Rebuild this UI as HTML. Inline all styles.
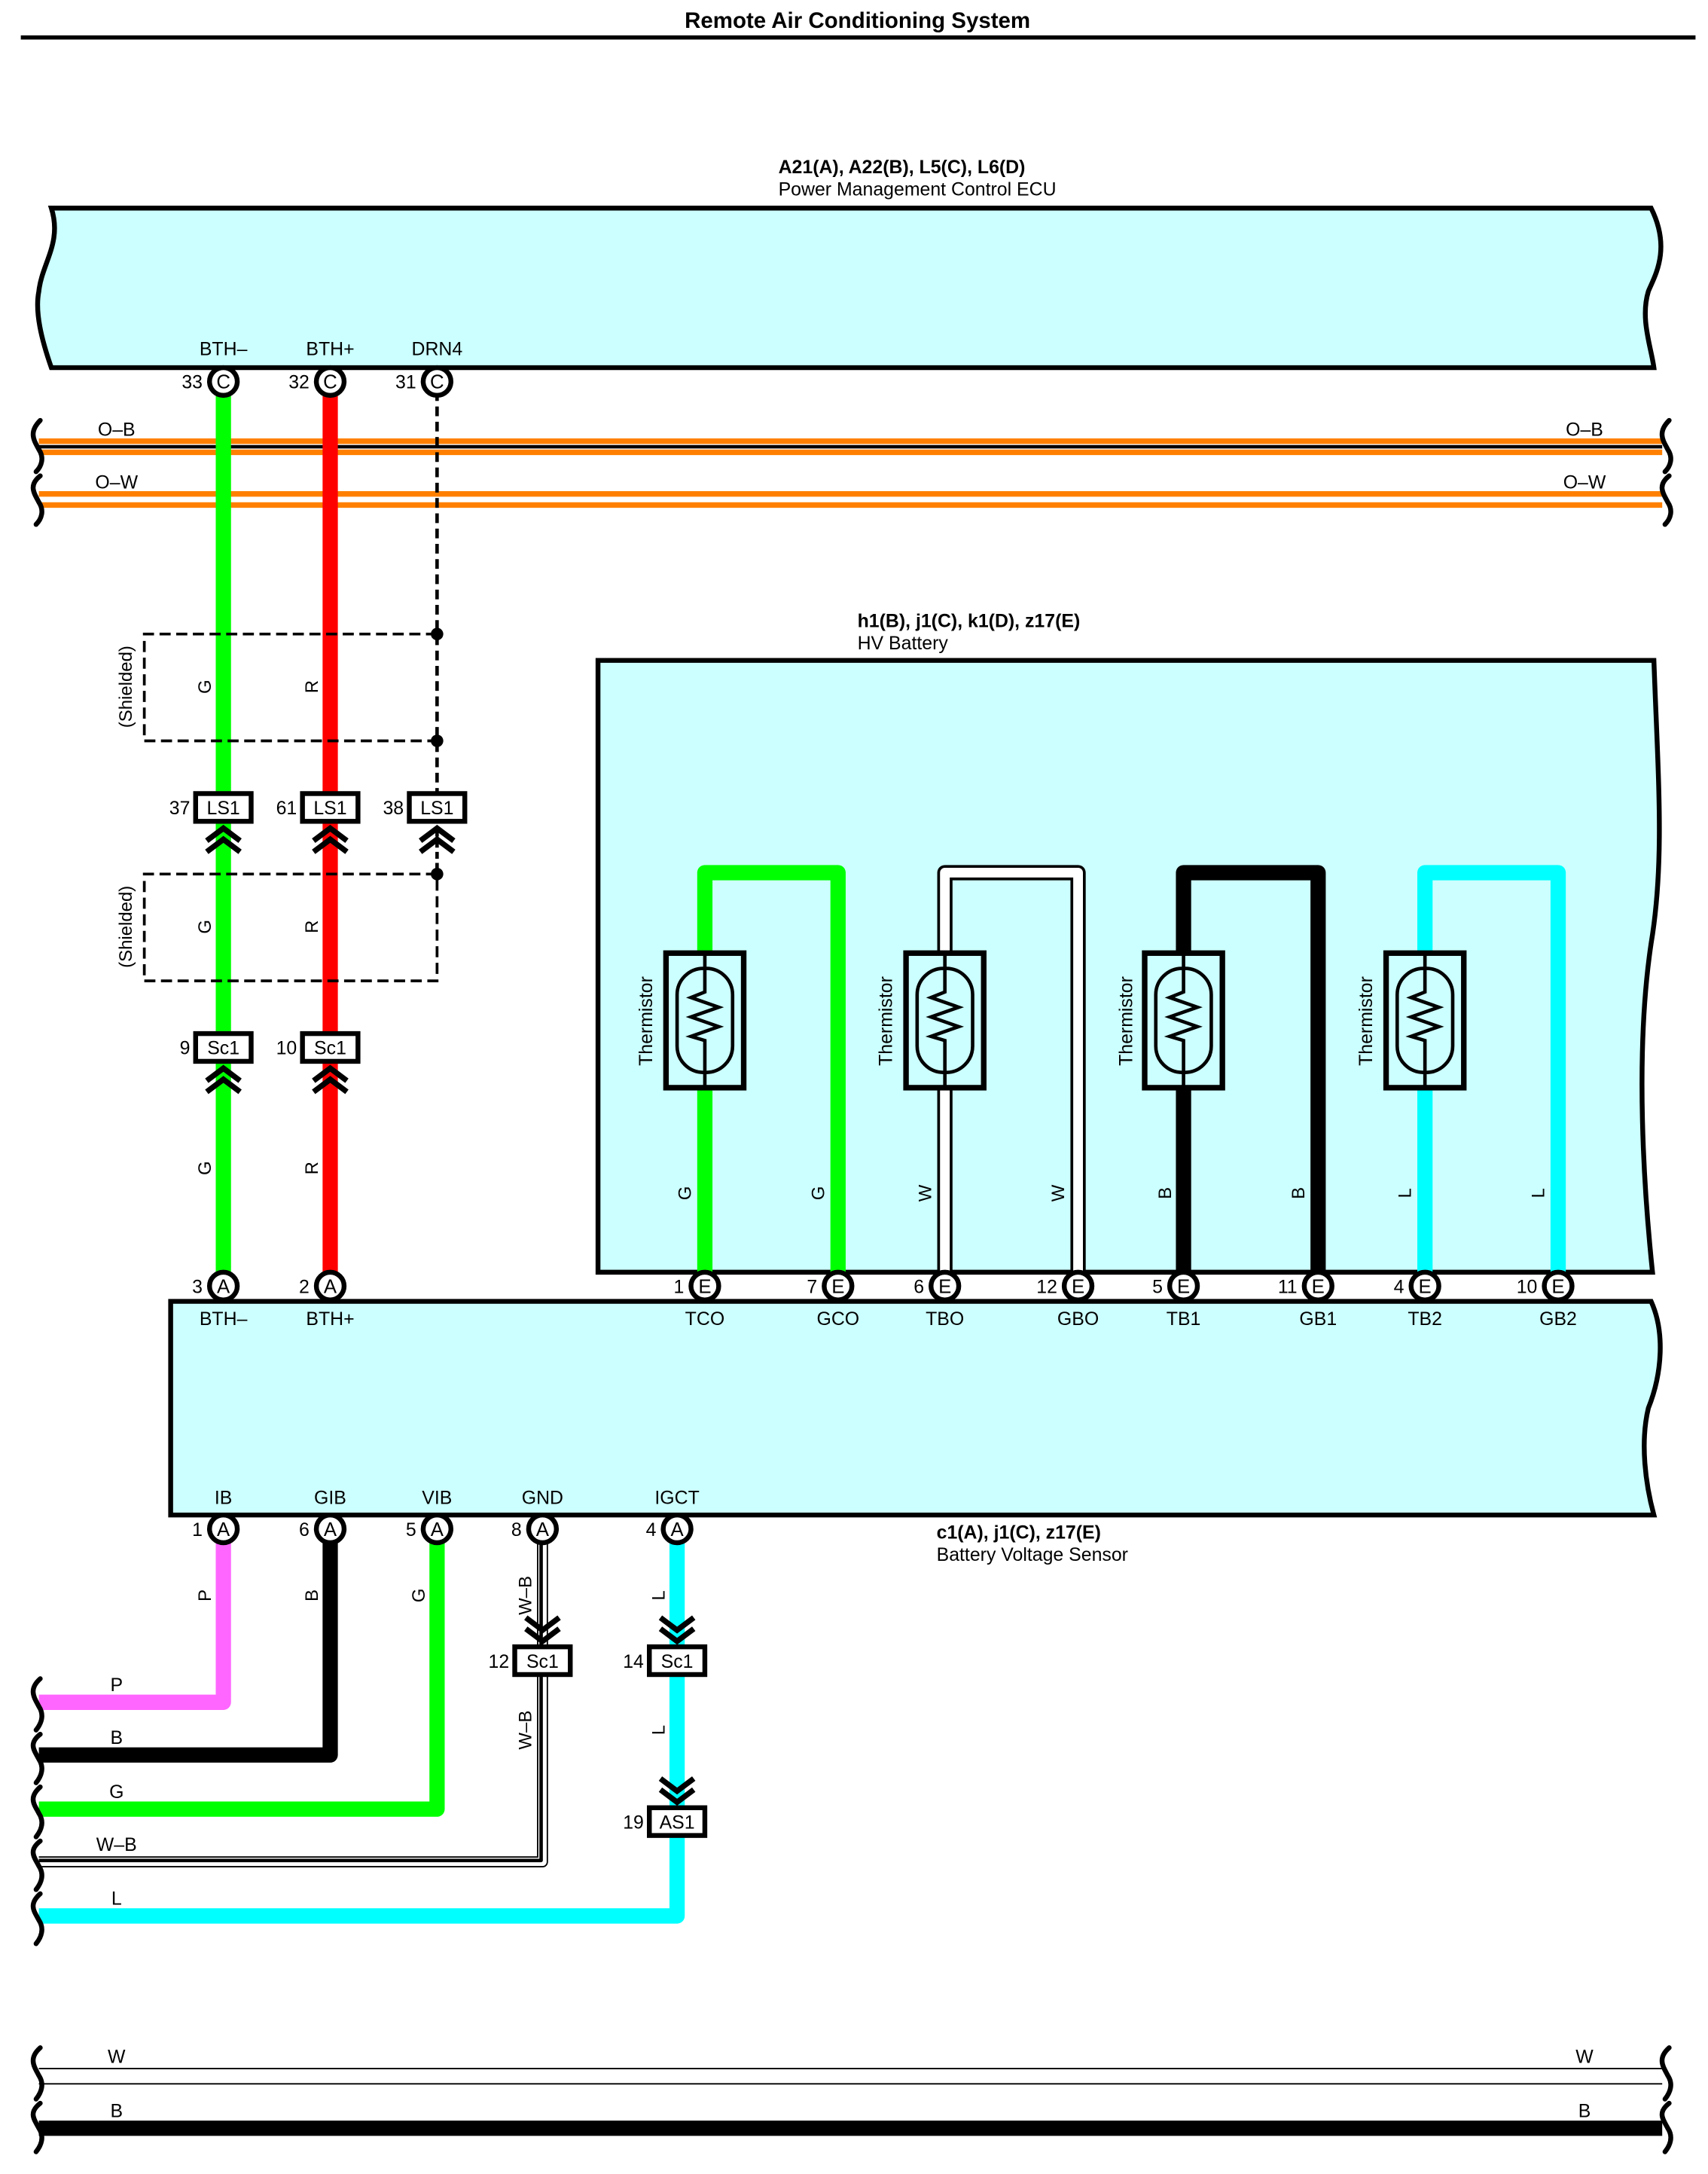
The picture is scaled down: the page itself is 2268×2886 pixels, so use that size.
<!DOCTYPE html>
<html><head><meta charset="utf-8"><style>
html,body{margin:0;padding:0;background:#fff;}
svg{display:block;}
text{font-family:"Liberation Sans",Arial,sans-serif;fill:#000;}
</style></head><body>
<svg width="2268" height="2886" viewBox="0 0 1231 1567" preserveAspectRatio="none" xmlns="http://www.w3.org/2000/svg">
<!-- title -->
<text x="618" y="20" font-size="16" font-weight="bold" text-anchor="middle">Remote Air Conditioning System</text>
<line x1="15" y1="27" x2="1222" y2="27" stroke="#000" stroke-width="3"/>

<!-- ECU -->
<text x="561" y="125" font-size="13.5" font-weight="bold">A21(A), A22(B), L5(C), L6(D)</text>
<text x="561" y="141" font-size="13.5">Power Management Control ECU</text>
<path d="M37,150 L1190,150 C1205,180 1192,200 1188,210 C1182,230 1190,250 1192,265 L37,265 C30,245 25,225 28,210 C30,190 45,175 37,150 Z" fill="#ccffff" stroke="#000" stroke-width="3.5"/>
<text x="161" y="256" font-size="13.5" text-anchor="middle">BTH–</text>
<text x="238" y="256" font-size="13.5" text-anchor="middle">BTH+</text>
<text x="315" y="256" font-size="13.5" text-anchor="middle">DRN4</text>

<!-- buses O-B / O-W -->
<g stroke-width="4" fill="none">
<line x1="28" y1="318" x2="1198" y2="318" stroke="#ff8000"/>
<line x1="28" y1="326" x2="1198" y2="326" stroke="#ff8000"/>
<line x1="28" y1="322" x2="1198" y2="322" stroke="#000" stroke-width="2.5"/>
<line x1="28" y1="356" x2="1198" y2="356" stroke="#ff8000"/>
<line x1="28" y1="364" x2="1198" y2="364" stroke="#ff8000"/>
</g>
<g stroke="#000" stroke-width="3.5" fill="none" stroke-linecap="round">
<path d="M29,303 C20,312 25,318 28,324 C32,330 30,336 26,340"/>
<path d="M29,343 C20,350 25,356 28,362 C32,368 30,374 26,378"/>
<path d="M1203,303 C1194,312 1199,318 1202,324 C1206,330 1204,336 1200,340"/>
<path d="M1203,343 C1194,350 1199,356 1202,362 C1206,368 1204,374 1200,378"/>
</g>
<text x="84" y="314" font-size="13.5" text-anchor="middle">O–B</text>
<text x="84" y="352" font-size="13.5" text-anchor="middle">O–W</text>
<text x="1142" y="314" font-size="13.5" text-anchor="middle">O–B</text>
<text x="1142" y="352" font-size="13.5" text-anchor="middle">O–W</text>

<!-- G / R wires -->
<line x1="161" y1="280" x2="161" y2="922" stroke="#00ff00" stroke-width="11"/>
<line x1="238" y1="280" x2="238" y2="922" stroke="#ff0000" stroke-width="11"/>
<!-- drain -->
<line x1="315" y1="282" x2="315" y2="572" stroke="#000" stroke-width="2.5" stroke-dasharray="7,4"/>
<!-- shield boxes -->
<g stroke="#000" stroke-width="2" fill="none" stroke-dasharray="8,4">
<path d="M315,457 L104,457 L104,534 L315,534"/>
<path d="M315,630 L104,630 L104,707 L315,707 L315,630"/>
</g>
<circle cx="315" cy="457" r="4.5" fill="#000"/>
<circle cx="315" cy="534" r="4.5" fill="#000"/>
<circle cx="315" cy="630" r="4.5" fill="#000"/>
<text transform="translate(95,495) rotate(-90)" font-size="13" text-anchor="middle">(Shielded)</text>
<text transform="translate(95,668) rotate(-90)" font-size="13" text-anchor="middle">(Shielded)</text>
<g font-size="13" text-anchor="middle">
<text transform="translate(152,495) rotate(-90)">G</text>
<text transform="translate(229,495) rotate(-90)">R</text>
<text transform="translate(152,668) rotate(-90)">G</text>
<text transform="translate(229,668) rotate(-90)">R</text>
<text transform="translate(152,842) rotate(-90)">G</text>
<text transform="translate(229,842) rotate(-90)">R</text>
</g>

<!-- LS1 connectors -->
<g stroke="#000" stroke-width="3.5" fill="#fff">
<rect x="141" y="572" width="40" height="20"/>
<rect x="218" y="572" width="40" height="20"/>
<rect x="295" y="572" width="40" height="20"/>
<rect x="141" y="745" width="40" height="20"/>
<rect x="218" y="745" width="40" height="20"/>
</g>
<g font-size="13.5" text-anchor="middle">
<text x="161" y="587">LS1</text><text x="238" y="587">LS1</text><text x="315" y="587">LS1</text>
<text x="161" y="760">Sc1</text><text x="238" y="760">Sc1</text>
</g>
<g font-size="13.5" text-anchor="end">
<text x="137" y="587">37</text><text x="214" y="587">61</text><text x="291" y="587">38</text>
<text x="137" y="760">9</text><text x="214" y="760">10</text>
</g>
<line x1="315" y1="598" x2="315" y2="630" stroke="#000" stroke-width="2.5" stroke-dasharray="5,3"/>
<!-- up chevrons -->
<g stroke="#000" stroke-width="4" fill="none">
<path d="M149,606 L161,597 L173,606 M149,614 L161,605 L173,614"/>
<path d="M226,606 L238,597 L250,606 M226,614 L238,605 L250,614"/>
<path d="M303,606 L315,597 L327,606 M303,614 L315,605 L327,614"/>
<path d="M149,779 L161,770 L173,779 M149,787 L161,778 L173,787"/>
<path d="M226,779 L238,770 L250,779 M226,787 L238,778 L250,787"/>
</g>

<!-- HV Battery -->
<text x="618" y="452" font-size="13.5" font-weight="bold">h1(B), j1(C), k1(D), z17(E)</text>
<text x="618" y="468" font-size="13.5">HV Battery</text>
<path d="M431,476 L1192,476 C1195,560 1200,620 1190,680 C1178,760 1185,860 1191,917 L431,917 Z" fill="#ccffff" stroke="#000" stroke-width="3.5"/>

<!-- thermistor loops -->
<g fill="none" stroke-linejoin="round">
<path d="M508,922 L508,629 L604,629 L604,922" stroke="#00ff00" stroke-width="11"/>
<path d="M681,922 L681,629 L777,629 L777,922" stroke="#000" stroke-width="11"/>
<path d="M681,922 L681,629 L777,629 L777,922" stroke="#fff" stroke-width="7"/>
<path d="M853,922 L853,629 L950,629 L950,922" stroke="#000" stroke-width="11"/>
<path d="M1027,922 L1027,629 L1123,629 L1123,922" stroke="#00ffff" stroke-width="11"/>
</g>
<!-- thermistor symbols -->
<g stroke="#000" fill="#ccffff">
<g transform="translate(508,0)"><rect x="-28" y="687" width="56" height="97" stroke-width="4"/><rect x="-20" y="698" width="40" height="75" rx="19" fill="none" stroke-width="2.5"/><path d="M0,687 L0,715 L-10,719 L10,726 L-10,733 L10,740 L-10,747 L0,750 L0,784" fill="none" stroke-width="2.5"/></g>
<g transform="translate(681,0)"><rect x="-28" y="687" width="56" height="97" stroke-width="4"/><rect x="-20" y="698" width="40" height="75" rx="19" fill="none" stroke-width="2.5"/><path d="M0,687 L0,715 L-10,719 L10,726 L-10,733 L10,740 L-10,747 L0,750 L0,784" fill="none" stroke-width="2.5"/></g>
<g transform="translate(853,0)"><rect x="-28" y="687" width="56" height="97" stroke-width="4"/><rect x="-20" y="698" width="40" height="75" rx="19" fill="none" stroke-width="2.5"/><path d="M0,687 L0,715 L-10,719 L10,726 L-10,733 L10,740 L-10,747 L0,750 L0,784" fill="none" stroke-width="2.5"/></g>
<g transform="translate(1027,0)"><rect x="-28" y="687" width="56" height="97" stroke-width="4"/><rect x="-20" y="698" width="40" height="75" rx="19" fill="none" stroke-width="2.5"/><path d="M0,687 L0,715 L-10,719 L10,726 L-10,733 L10,740 L-10,747 L0,750 L0,784" fill="none" stroke-width="2.5"/></g>
</g>
<g font-size="13.5" text-anchor="middle">
<text transform="translate(470,736) rotate(-90)">Thermistor</text>
<text transform="translate(643,736) rotate(-90)">Thermistor</text>
<text transform="translate(816,736) rotate(-90)">Thermistor</text>
<text transform="translate(989,736) rotate(-90)">Thermistor</text>
</g>
<g font-size="13" text-anchor="middle">
<text transform="translate(498,860) rotate(-90)">G</text>
<text transform="translate(594,860) rotate(-90)">G</text>
<text transform="translate(671,860) rotate(-90)">W</text>
<text transform="translate(767,860) rotate(-90)">W</text>
<text transform="translate(844,860) rotate(-90)">B</text>
<text transform="translate(940,860) rotate(-90)">B</text>
<text transform="translate(1017,860) rotate(-90)">L</text>
<text transform="translate(1113,860) rotate(-90)">L</text>
</g>

<!-- Battery Voltage Sensor box -->
<path d="M123,938 L1190,938 C1200,960 1198,990 1188,1015 C1182,1040 1186,1070 1192,1092 L123,1092 Z" fill="#ccffff" stroke="#000" stroke-width="3.5"/>
<g font-size="13.5" text-anchor="middle">
<text x="161" y="955">BTH–</text><text x="238" y="955">BTH+</text>
<text x="508" y="955">TCO</text><text x="604" y="955">GCO</text><text x="681" y="955">TBO</text><text x="777" y="955">GBO</text>
<text x="853" y="955">TB1</text><text x="950" y="955">GB1</text><text x="1027" y="955">TB2</text><text x="1123" y="955">GB2</text>
<text x="161" y="1084">IB</text><text x="238" y="1084">GIB</text><text x="315" y="1084">VIB</text><text x="391" y="1084">GND</text><text x="488" y="1084">IGCT</text>
</g>
<text x="675" y="1109" font-size="13.5" font-weight="bold">c1(A), j1(C), z17(E)</text>
<text x="675" y="1125" font-size="13.5">Battery Voltage Sensor</text>

<!-- lower wires -->
<g fill="none" stroke-linejoin="round">
<path d="M161,1110 L161,1227 L28,1227" stroke="#ff66ff" stroke-width="11"/>
<path d="M238,1110 L238,1265 L28,1265" stroke="#000" stroke-width="11"/>
<path d="M315,1110 L315,1304 L28,1304" stroke="#00ff00" stroke-width="11"/>
<path d="M488,1110 L488,1381 L28,1381" stroke="#00ffff" stroke-width="11"/>
<path d="M391,1110 L391,1342 L28,1342" stroke="#000" stroke-width="8"/>
<path d="M391,1110 L391,1342 L28,1342" stroke="#fff" stroke-width="6"/>
<path d="M390,1110 L390,1341 L28,1341" stroke="#000" stroke-width="2.5"/>
</g>
<g stroke="#000" stroke-width="3.5" fill="none" stroke-linecap="round">
<path d="M29,1210 C20,1218 25,1224 28,1230 C32,1236 30,1242 26,1247"/>
<path d="M29,1250 C20,1257 25,1262 28,1268 C32,1274 30,1280 26,1285"/>
<path d="M29,1288 C20,1296 25,1301 28,1307 C32,1313 30,1319 26,1324"/>
<path d="M29,1327 C20,1334 25,1339 28,1345 C32,1351 30,1357 26,1362"/>
<path d="M29,1365 C20,1373 25,1378 28,1384 C32,1390 30,1396 26,1401"/>
</g>
<g font-size="13.5" text-anchor="middle">
<text x="84" y="1219">P</text><text x="84" y="1257">B</text><text x="84" y="1296">G</text><text x="84" y="1334">W–B</text><text x="84" y="1373">L</text>
</g>
<g font-size="13" text-anchor="middle">
<text transform="translate(152,1150) rotate(-90)">P</text>
<text transform="translate(229,1150) rotate(-90)">B</text>
<text transform="translate(306,1150) rotate(-90)">G</text>
<text transform="translate(383,1150) rotate(-90)">W–B</text>
<text transform="translate(383,1247) rotate(-90)">W–B</text>
<text transform="translate(479,1150) rotate(-90)">L</text>
<text transform="translate(479,1247) rotate(-90)">L</text>
</g>
<!-- down chevrons -->
<g stroke="#000" stroke-width="4" fill="none">
<path d="M379,1166 L391,1175 L403,1166 M379,1174 L391,1183 L403,1174"/>
<path d="M476,1166 L488,1175 L500,1166 M476,1174 L488,1183 L500,1174"/>
<path d="M476,1282 L488,1291 L500,1282 M476,1290 L488,1299 L500,1290"/>
</g>
<g stroke="#000" stroke-width="3.5" fill="#fff">
<rect x="371" y="1187" width="40" height="20"/>
<rect x="468" y="1187" width="40" height="20"/>
<rect x="468" y="1303" width="40" height="20"/>
</g>
<g font-size="13.5" text-anchor="middle">
<text x="391" y="1202">Sc1</text><text x="488" y="1202">Sc1</text><text x="488" y="1318">AS1</text>
</g>
<g font-size="13.5" text-anchor="end">
<text x="367" y="1202">12</text><text x="464" y="1202">14</text><text x="464" y="1318">19</text>
</g>

<!-- pins -->
<g stroke="#000" stroke-width="3.5" fill="#fff">
<circle cx="161" cy="275" r="10"/><circle cx="238" cy="275" r="10"/><circle cx="315" cy="275" r="10"/>
<circle cx="161" cy="927" r="10"/><circle cx="238" cy="927" r="10"/>
<circle cx="508" cy="927" r="10"/><circle cx="604" cy="927" r="10"/><circle cx="681" cy="927" r="10"/><circle cx="777" cy="927" r="10"/>
<circle cx="853" cy="927" r="10"/><circle cx="950" cy="927" r="10"/><circle cx="1027" cy="927" r="10"/><circle cx="1123" cy="927" r="10"/>
<circle cx="161" cy="1102" r="10"/><circle cx="238" cy="1102" r="10"/><circle cx="315" cy="1102" r="10"/><circle cx="391" cy="1102" r="10"/><circle cx="488" cy="1102" r="10"/>
</g>
<g font-size="14" text-anchor="middle">
<text x="161" y="280">C</text><text x="238" y="280">C</text><text x="315" y="280">C</text>
<text x="161" y="932">A</text><text x="238" y="932">A</text>
<text x="508" y="932">E</text><text x="604" y="932">E</text><text x="681" y="932">E</text><text x="777" y="932">E</text>
<text x="853" y="932">E</text><text x="950" y="932">E</text><text x="1027" y="932">E</text><text x="1123" y="932">E</text>
<text x="161" y="1107">A</text><text x="238" y="1107">A</text><text x="315" y="1107">A</text><text x="391" y="1107">A</text><text x="488" y="1107">A</text>
</g>
<g font-size="13.5" text-anchor="end">
<text x="146" y="280">33</text><text x="223" y="280">32</text><text x="300" y="280">31</text>
<text x="146" y="932">3</text><text x="223" y="932">2</text>
<text x="493" y="932">1</text><text x="589" y="932">7</text><text x="666" y="932">6</text><text x="762" y="932">12</text>
<text x="838" y="932">5</text><text x="935" y="932">11</text><text x="1012" y="932">4</text><text x="1108" y="932">10</text>
<text x="146" y="1107">1</text><text x="223" y="1107">6</text><text x="300" y="1107">5</text><text x="376" y="1107">8</text><text x="473" y="1107">4</text>
</g>

<!-- bottom bus W / B -->
<line x1="28" y1="1491" x2="1198" y2="1491" stroke="#000" stroke-width="1"/>
<line x1="28" y1="1502" x2="1198" y2="1502" stroke="#000" stroke-width="1"/>
<line x1="28" y1="1534" x2="1198" y2="1534" stroke="#000" stroke-width="11"/>
<g stroke="#000" stroke-width="3.5" fill="none" stroke-linecap="round">
<path d="M29,1476 C20,1484 25,1490 28,1496 C32,1502 30,1508 26,1513"/>
<path d="M29,1516 C20,1523 25,1528 28,1534 C32,1540 30,1546 26,1551"/>
<path d="M1203,1476 C1194,1484 1199,1490 1202,1496 C1206,1502 1204,1508 1200,1513"/>
<path d="M1203,1516 C1194,1523 1199,1528 1202,1534 C1206,1540 1204,1546 1200,1551"/>
</g>
<g font-size="13.5" text-anchor="middle">
<text x="84" y="1487">W</text><text x="1142" y="1487">W</text>
<text x="84" y="1526">B</text><text x="1142" y="1526">B</text>
</g>
</svg>
</body></html>
